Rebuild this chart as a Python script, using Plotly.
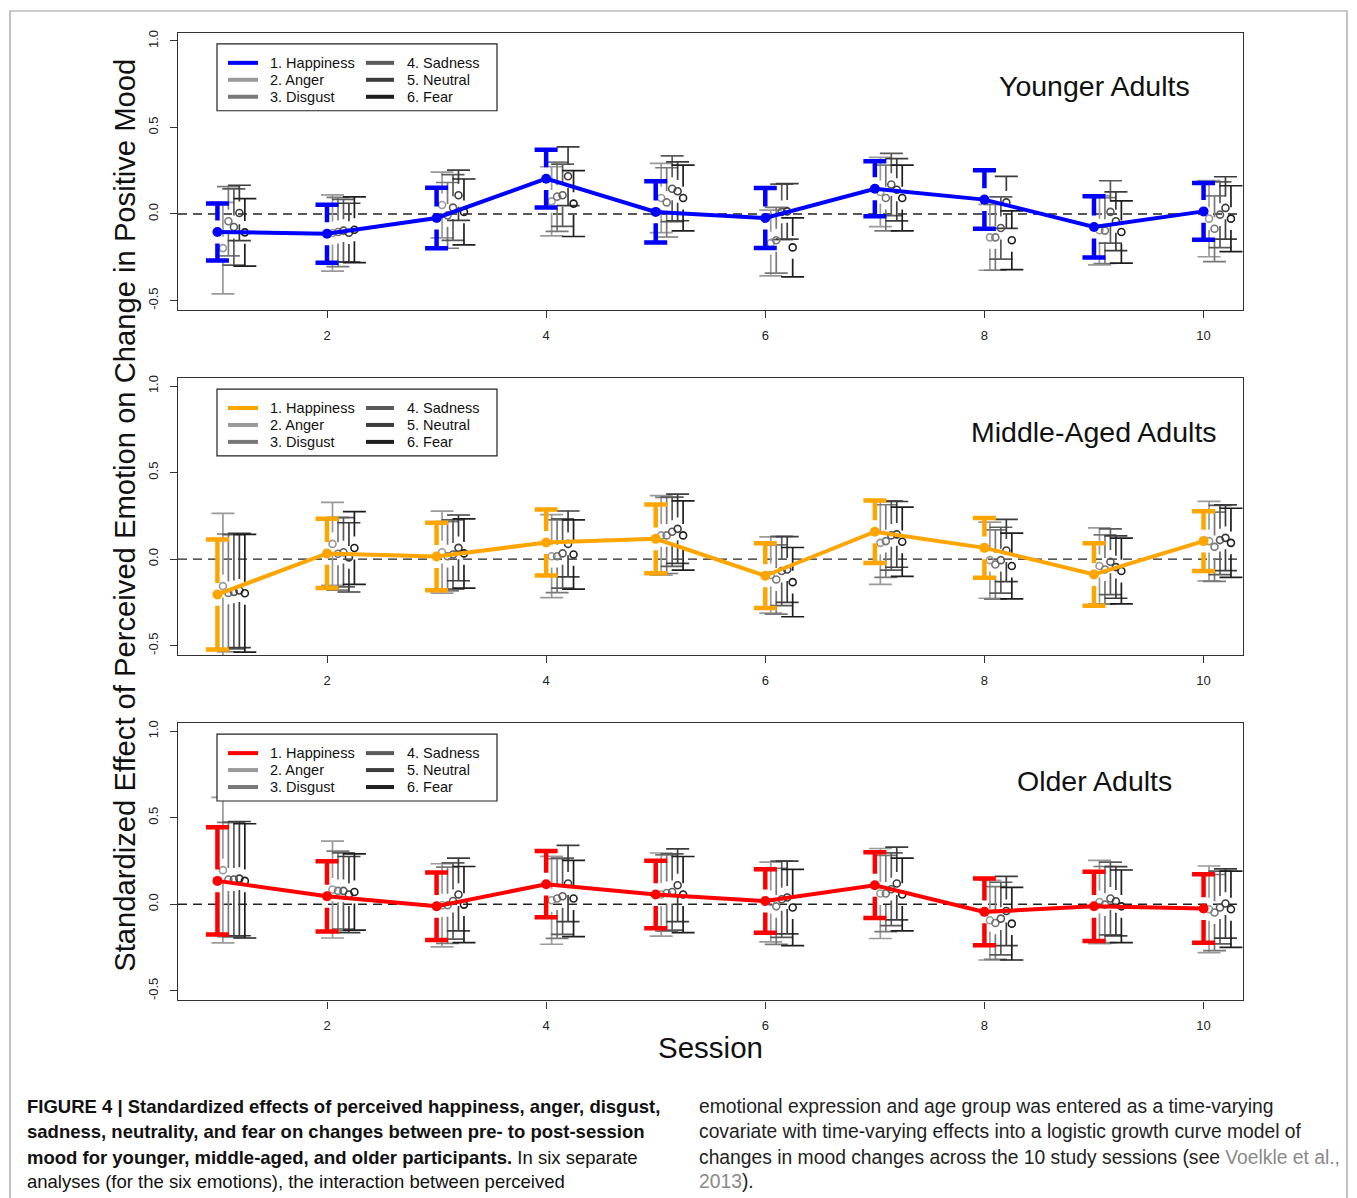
import plotly.graph_objects as go

W, H = 1357, 1198

sessions = [1, 2, 3, 4, 5, 6, 7, 8, 9, 10]
emotions = ["1. Happiness", "2. Anger", "3. Disgust", "4. Sadness", "5. Neutral", "6. Fear"]
panel_titles = ["Younger Adults", "Middle-Aged Adults", "Older Adults"]
happy_colors = ["#0000FF", "#FFA500", "#FF0000"]
gray_colors = ["#9a9a9a", "#787878", "#5a5a5a", "#3c3c3c", "#1e1e1e"]
x_ticks = [2, 4, 6, 8, 10]
y_ticks = [-0.5, 0.0, 0.5, 1.0]
y_ticklabels = ["-0.5", "0.0", "0.5", "1.0"]

# ---- means (order: happiness, anger, disgust, sadness, neutral, fear) ----
young_happiness = [-0.104, -0.114, -0.023, 0.204, 0.012, -0.023, 0.146, 0.083, -0.075, 0.015]
young_anger     = [-0.197, -0.110, 0.052, 0.073, 0.092, -0.168, 0.127, -0.135, -0.094, -0.027]
young_disgust   = [-0.042, -0.104, -0.008, 0.100, 0.067, -0.152, 0.092, -0.135, -0.096, -0.085]
young_sadness   = [-0.075, -0.096, 0.037, 0.108, 0.146, 0.012, 0.170, -0.081, 0.012, -0.004]
young_neutral   = [0.006, -0.108, 0.108, 0.218, 0.131, 0.015, 0.140, 0.067, -0.042, 0.035]
young_fear      = [-0.106, -0.091, 0.012, 0.060, 0.092, -0.193, 0.092, -0.152, -0.104, -0.027]

middle_happiness = [-0.204, 0.033, 0.015, 0.096, 0.117, -0.096, 0.158, 0.065, -0.089, 0.104]
middle_anger     = [-0.156, 0.088, 0.040, 0.017, 0.137, -0.092, 0.094, -0.006, -0.040, 0.104]
middle_disgust   = [-0.195, 0.031, 0.017, 0.017, 0.137, -0.118, 0.104, -0.031, -0.060, 0.071]
middle_sadness   = [-0.189, 0.040, 0.027, 0.033, 0.158, -0.069, 0.137, -0.006, -0.015, 0.110]
middle_neutral   = [-0.181, 0.010, 0.065, 0.088, 0.175, -0.060, 0.143, 0.050, -0.046, 0.123]
middle_fear      = [-0.197, 0.064, 0.033, 0.027, 0.137, -0.133, 0.100, -0.040, -0.069, 0.094]

older_happiness = [0.135, 0.046, -0.012, 0.116, 0.056, 0.019, 0.110, -0.044, -0.012, -0.025]
older_anger     = [0.197, 0.085, -0.006, 0.023, 0.056, 0.013, 0.062, -0.092, 0.013, -0.029]
older_disgust   = [0.143, 0.077, -0.006, 0.033, 0.065, -0.012, 0.062, -0.108, -0.002, -0.048]
older_sadness   = [0.143, 0.077, 0.019, 0.046, 0.071, 0.029, 0.087, -0.083, 0.033, -0.019]
older_neutral   = [0.148, 0.056, 0.056, 0.120, 0.110, 0.039, 0.120, -0.039, 0.017, 0.004]
older_fear      = [0.135, 0.071, -0.002, 0.033, 0.056, -0.019, 0.056, -0.112, -0.012, -0.029]

# ---- CI half-widths ----
young_happiness_ci = [0.165, 0.168, 0.175, 0.167, 0.177, 0.173, 0.159, 0.169, 0.177, 0.164]
young_anger_ci     = [0.264, 0.220, 0.190, 0.200, 0.200, 0.190, 0.200, 0.190, 0.200, 0.220]
young_disgust_ci   = [0.200, 0.200, 0.190, 0.200, 0.200, 0.190, 0.190, 0.190, 0.190, 0.190]
young_sadness_ci   = [0.220, 0.180, 0.190, 0.180, 0.190, 0.160, 0.180, 0.180, 0.180, 0.190]
young_neutral_ci   = [0.160, 0.170, 0.145, 0.170, 0.170, 0.160, 0.180, 0.150, 0.170, 0.180]
young_fear_ci      = [0.195, 0.190, 0.190, 0.190, 0.190, 0.170, 0.190, 0.170, 0.180, 0.190]

middle_happiness_ci = [0.318, 0.200, 0.195, 0.190, 0.198, 0.187, 0.181, 0.173, 0.180, 0.173]
middle_anger_ci     = [0.420, 0.240, 0.237, 0.240, 0.230, 0.220, 0.240, 0.220, 0.220, 0.230]
middle_disgust_ci   = [0.340, 0.210, 0.200, 0.210, 0.220, 0.200, 0.210, 0.200, 0.200, 0.200]
middle_sadness_ci   = [0.330, 0.200, 0.200, 0.200, 0.200, 0.200, 0.200, 0.190, 0.190, 0.200]
middle_neutral_ci   = [0.330, 0.200, 0.190, 0.190, 0.200, 0.190, 0.190, 0.180, 0.180, 0.190]
middle_fear_ci      = [0.340, 0.210, 0.200, 0.200, 0.200, 0.200, 0.200, 0.190, 0.190, 0.200]

older_happiness_ci = [0.310, 0.203, 0.195, 0.191, 0.195, 0.183, 0.190, 0.193, 0.200, 0.198]
older_anger_ci     = [0.420, 0.280, 0.240, 0.254, 0.240, 0.230, 0.260, 0.230, 0.240, 0.250]
older_disgust_ci   = [0.330, 0.230, 0.220, 0.230, 0.220, 0.220, 0.220, 0.210, 0.220, 0.220]
older_sadness_ci   = [0.330, 0.220, 0.220, 0.220, 0.220, 0.220, 0.210, 0.210, 0.210, 0.210]
older_neutral_ci   = [0.330, 0.220, 0.210, 0.220, 0.210, 0.210, 0.210, 0.200, 0.200, 0.200]
older_fear_ci      = [0.330, 0.220, 0.220, 0.220, 0.220, 0.220, 0.210, 0.210, 0.210, 0.220]

panels = [
    ([young_happiness, young_anger, young_disgust, young_sadness, young_neutral, young_fear],
     [young_happiness_ci, young_anger_ci, young_disgust_ci, young_sadness_ci, young_neutral_ci, young_fear_ci]),
    ([middle_happiness, middle_anger, middle_disgust, middle_sadness, middle_neutral, middle_fear],
     [middle_happiness_ci, middle_anger_ci, middle_disgust_ci, middle_sadness_ci, middle_neutral_ci, middle_fear_ci]),
    ([older_happiness, older_anger, older_disgust, older_sadness, older_neutral, older_fear],
     [older_happiness_ci, older_anger_ci, older_disgust_ci, older_sadness_ci, older_neutral_ci, older_fear_ci]),
]

OFFSET = 0.05     # horizontal dodge between emotions
GAP = 0.066       # gap around point (plotCI style)
CAP = 0.105       # half cap width in x units
X_RANGE = [0.64, 10.36]
Y_RANGE = [-0.556, 1.046]

FONT = "Liberation Sans, Arial, Helvetica, sans-serif"


def px(x):
    return x / W


def py(y):
    return 1 - y / H


panel_tops = [30, 376, 722]
panel_bottoms = [308, 654, 1000]
x_dom = [px(178), px(1243)]

fig = go.Figure()


def ci_path(xs, means, hws):
    X, Y = [], []
    for x, m, h in zip(xs, means, hws):
        lo, hi = m - h, m + h
        if h > GAP:
            X += [x, x, None, x, x, None]
            Y += [hi, m + GAP, None, m - GAP, lo, None]
        X += [x - CAP, x + CAP, None, x - CAP, x + CAP, None]
        Y += [hi, hi, None, lo, lo, None]
    return X, Y


for p, (means_list, ci_list) in enumerate(panels):
    xa = "x" if p == 0 else f"x{p+1}"
    ya = "y" if p == 0 else f"y{p+1}"
    fig.add_trace(go.Scatter(x=X_RANGE, y=[0, 0], mode="lines",
                             line=dict(color="#222222", width=1.4, dash="9px,6px"),
                             xaxis=xa, yaxis=ya, showlegend=False, hoverinfo="skip"))
    for k in range(1, 6):
        xs = [s + OFFSET * k for s in sessions]
        X, Y = ci_path(xs, means_list[k], ci_list[k])
        fig.add_trace(go.Scatter(x=X, y=Y, mode="lines",
                                 line=dict(color=gray_colors[k - 1], width=1.7),
                                 xaxis=xa, yaxis=ya, showlegend=False, hoverinfo="skip"))
    for k in range(1, 6):
        xs = [s + OFFSET * k for s in sessions]
        fig.add_trace(go.Scatter(x=xs, y=means_list[k], mode="markers",
                                 marker=dict(symbol="circle-open", size=7,
                                             color=gray_colors[k - 1], line=dict(width=1.6)),
                                 xaxis=xa, yaxis=ya, showlegend=False, name=emotions[k]))
    X, Y = ci_path(sessions, means_list[0], ci_list[0])
    fig.add_trace(go.Scatter(x=X, y=Y, mode="lines",
                             line=dict(color=happy_colors[p], width=4.5),
                             xaxis=xa, yaxis=ya, showlegend=False, hoverinfo="skip"))
    fig.add_trace(go.Scatter(x=sessions, y=means_list[0], mode="lines+markers",
                             line=dict(color=happy_colors[p], width=4),
                             marker=dict(size=10, color=happy_colors[p]),
                             xaxis=xa, yaxis=ya, showlegend=False, name=emotions[0]))

layout = dict(
    width=W, height=H,
    margin=dict(l=0, r=0, t=0, b=0),
    paper_bgcolor="white", plot_bgcolor="white",
    font=dict(family=FONT, color="#111111"),
    showlegend=False,
)

for p in range(3):
    sx = "" if p == 0 else str(p + 1)
    layout["xaxis" + sx] = dict(
        domain=x_dom, range=X_RANGE, anchor="y" + sx,
        tickmode="array", tickvals=x_ticks, ticktext=[str(v) for v in x_ticks],
        ticks="outside", ticklen=7, tickwidth=1, tickcolor="#333333",
        showline=True, linecolor="#333333", linewidth=1.2, mirror=True,
        showgrid=False, zeroline=False, tickfont=dict(size=13, family=FONT, color="#222222"),
        ticklabelstandoff=6,
    )
    layout["yaxis" + sx] = dict(
        domain=[py(panel_bottoms[p]), py(panel_tops[p])], range=Y_RANGE,
        anchor="x" + sx,
        tickmode="array", tickvals=y_ticks, ticktext=y_ticklabels, tickangle=-90,
        ticks="outside", ticklen=7, tickwidth=1, tickcolor="#333333",
        showline=True, linecolor="#333333", linewidth=1.2, mirror=True,
        showgrid=False, zeroline=False, tickfont=dict(size=13, family=FONT, color="#222222"),
        ticklabelstandoff=7,
    )

fig.update_layout(**layout)

shapes = []
annotations = []

# outer figure border (open at the bottom edge of the window)
shapes.append(dict(type="rect", xref="paper", yref="paper",
                   x0=px(10), x1=px(1347), y0=py(1240), y1=py(8),
                   line=dict(color="#9a9a9a", width=1.2)))

for p in range(3):
    top = panel_tops[p]
    shapes.append(dict(type="rect", xref="paper", yref="paper",
                       x0=px(217), x1=px(497), y0=py(top + 78), y1=py(top + 11),
                       line=dict(color="#222222", width=1.2), fillcolor="white"))
    for r in range(3):
        yy = top + 30 + 17 * r
        for col, (lx0, lx1, tx) in enumerate([(228, 258, 268), (366, 394, 405)]):
            k = r + 3 * col
            color = happy_colors[p] if k == 0 else gray_colors[k - 1]
            shapes.append(dict(type="line", xref="paper", yref="paper",
                               x0=px(lx0), x1=px(lx1), y0=py(yy), y1=py(yy),
                               line=dict(color=color, width=4)))
            annotations.append(dict(xref="paper", yref="paper", x=px(tx), y=py(yy),
                                    xanchor="left", yanchor="middle", showarrow=False,
                                    text=emotions[k], font=dict(size=14.5, family=FONT, color="#111111")))
    title_y = [83, 430, 780][p]
    annotations.append(dict(xref="paper", yref="paper", x=px(1094), y=py(title_y),
                            xanchor="center", yanchor="middle", showarrow=False,
                            text=panel_titles[p], font=dict(size=28.5, family=FONT, color="#111111")))

annotations.append(dict(xref="paper", yref="paper", x=px(125), y=py(514),
                        xanchor="center", yanchor="middle", showarrow=False, textangle=-90,
                        text="Standardized Effect of Perceived Emotion on Change in Positive Mood",
                        font=dict(size=29.2, family=FONT, color="#111111")))
annotations.append(dict(xref="paper", yref="paper", x=px(710), y=py(1047),
                        xanchor="center", yanchor="middle", showarrow=False,
                        text="Session", font=dict(size=29.5, family=FONT, color="#111111")))

left_lines = [
    "<b>FIGURE 4 | Standardized effects of perceived happiness, anger, disgust,</b>",
    "<b>sadness, neutrality, and fear on changes between pre- to post-session</b>",
    "<b>mood for younger, middle-aged, and older participants.</b> In six separate",
    "analyses (for the six emotions), the interaction between perceived",
]
right_lines = [
    "emotional expression and age group was entered as a time-varying",
    "covariate with time-varying effects into a logistic growth curve model of",
    "changes in mood changes across the 10 study sessions (see <span style='color:#8a8a8a'>Voelkle et al.,</span>",
    "<span style='color:#8a8a8a'>2013</span>).",
]
cap_y = [1106, 1131, 1157, 1181]
for i, t in enumerate(left_lines):
    annotations.append(dict(xref="paper", yref="paper", x=px(25), y=py(cap_y[i]),
                            xanchor="left", yanchor="middle", showarrow=False, text=t,
                            font=dict(size=18.5, family=FONT, color="#111111")))
for i, t in enumerate(right_lines):
    annotations.append(dict(xref="paper", yref="paper", x=px(697), y=py(cap_y[i]),
                            xanchor="left", yanchor="middle", showarrow=False, text=t,
                            font=dict(size=19.3, family=FONT, color="#222222")))

fig.update_layout(shapes=shapes, annotations=annotations)
# remove the browser's default 8px body margin so the figure fills the window exactly
fig.write_html("out.html", config={"displayModeBar": False},
               post_script="document.body.style.margin='0px';")
